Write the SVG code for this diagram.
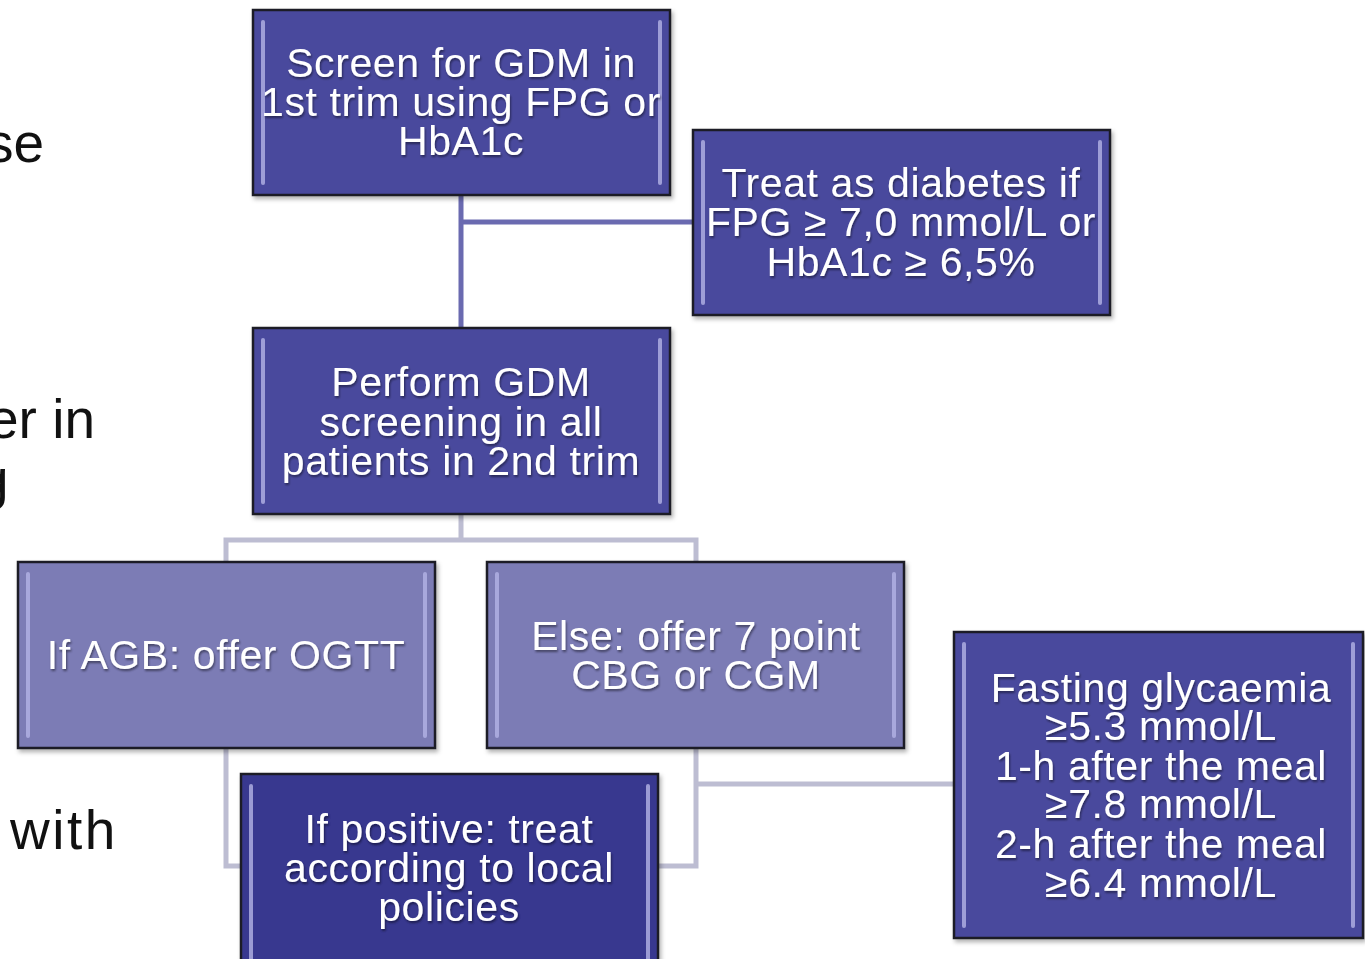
<svg xmlns="http://www.w3.org/2000/svg" width="1365" height="959" viewBox="0 0 1365 959">
<defs>
<filter id="ts" x="-5%" y="-20%" width="110%" height="140%"><feDropShadow dx="1" dy="2" stdDeviation="1" flood-color="#000" flood-opacity="0.45"/></filter>
<filter id="bs" x="-5%" y="-5%" width="110%" height="110%"><feDropShadow dx="2" dy="3" stdDeviation="2" flood-color="#000" flood-opacity="0.3"/></filter>
</defs>
<style>
.box{stroke:#1c1c28;stroke-width:2.5}
.dark{fill:#49499d}
.darker{fill:#37378f}
.light{fill:#7b7bb5}
.bev{stroke:#b4b4e6;stroke-width:4;stroke-linecap:round;opacity:0.8}
.t{font-family:"Liberation Sans",Arial,sans-serif;font-size:41px;fill:#ffffff;text-anchor:middle;letter-spacing:0.6px}
.side{font-family:"Liberation Sans",Arial,sans-serif;font-size:55px;fill:#111111}
.c1{stroke:#6a6ab0;stroke-width:5;fill:none}
.c2{stroke:#bdbdd2;stroke-width:5;fill:none}
</style>
<rect width="1365" height="959" fill="#ffffff"/>
<g id="side-text">
<text class="side" x="-14" y="162">se</text>
<text class="side" x="-12" y="438">er in</text>
<text class="side" x="-22" y="498">g</text>
<text class="side" x="10" y="849" letter-spacing="2.5">with</text>
</g>
<g id="connectors">
<path class="c1" d="M461 195V328M461 222H693"/>
<path class="c2" d="M461 514V540M226 562V540H696V562"/>
<path class="c2" d="M226 748V866H241M696 748V866H658M696 784H954"/>
</g>
<g id="n1" filter="url(#bs)">
<rect class="box dark" x="253" y="10" width="417" height="185"/>
<line class="bev" x1="263" y1="22" x2="263" y2="183"/><line class="bev" x1="660" y1="22" x2="660" y2="183"/>
<g filter="url(#ts)"><text class="t" x="461" y="77">Screen for GDM in</text><text class="t" x="461" y="116">1st trim using FPG or</text><text class="t" x="461" y="155">HbA1c</text></g>
</g>
<g id="n2" filter="url(#bs)">
<rect class="box dark" x="693" y="130" width="417" height="185"/>
<line class="bev" x1="703" y1="142" x2="703" y2="303"/><line class="bev" x1="1100" y1="142" x2="1100" y2="303"/>
<g filter="url(#ts)"><text class="t" x="901" y="197">Treat as diabetes if</text><text class="t" x="901" y="236">FPG ≥ 7,0 mmol/L or</text><text class="t" x="901" y="276">HbA1c ≥ 6,5%</text></g>
</g>
<g id="n3" filter="url(#bs)">
<rect class="box dark" x="253" y="328" width="417" height="186"/>
<line class="bev" x1="263" y1="340" x2="263" y2="502"/><line class="bev" x1="660" y1="340" x2="660" y2="502"/>
<g filter="url(#ts)"><text class="t" x="461" y="396">Perform GDM</text><text class="t" x="461" y="436">screening in all</text><text class="t" x="461" y="475">patients in 2nd trim</text></g>
</g>
<g id="n4" filter="url(#bs)">
<rect class="box light" x="18" y="562" width="417" height="186"/>
<line class="bev" x1="28" y1="574" x2="28" y2="736"/><line class="bev" x1="425" y1="574" x2="425" y2="736"/>
<g filter="url(#ts)"><text class="t" x="226" y="669">If AGB: offer OGTT</text></g>
</g>
<g id="n5" filter="url(#bs)">
<rect class="box light" x="487" y="562" width="417" height="186"/>
<line class="bev" x1="497" y1="574" x2="497" y2="736"/><line class="bev" x1="894" y1="574" x2="894" y2="736"/>
<g filter="url(#ts)"><text class="t" x="696" y="650">Else: offer 7 point</text><text class="t" x="696" y="689">CBG or CGM</text></g>
</g>
<g id="n6" filter="url(#bs)">
<rect class="box darker" x="241" y="774" width="417" height="190"/>
<line class="bev" x1="251" y1="786" x2="251" y2="960"/><line class="bev" x1="648" y1="786" x2="648" y2="960"/>
<g filter="url(#ts)"><text class="t" x="449" y="843">If positive: treat</text><text class="t" x="449" y="882">according to local</text><text class="t" x="449" y="921">policies</text></g>
</g>
<g id="n7" filter="url(#bs)">
<rect class="box dark" x="954" y="632" width="409" height="306"/>
<line class="bev" x1="964" y1="644" x2="964" y2="926"/><line class="bev" x1="1353" y1="644" x2="1353" y2="926"/>
<g filter="url(#ts)"><text class="t" x="1161" y="702">Fasting glycaemia</text><text class="t" x="1161" y="740">≥5.3 mmol/L</text><text class="t" x="1161" y="780">1-h after the meal</text><text class="t" x="1161" y="818">≥7.8 mmol/L</text><text class="t" x="1161" y="858">2-h after the meal</text><text class="t" x="1161" y="897">≥6.4 mmol/L</text></g>
</g>
</svg>
